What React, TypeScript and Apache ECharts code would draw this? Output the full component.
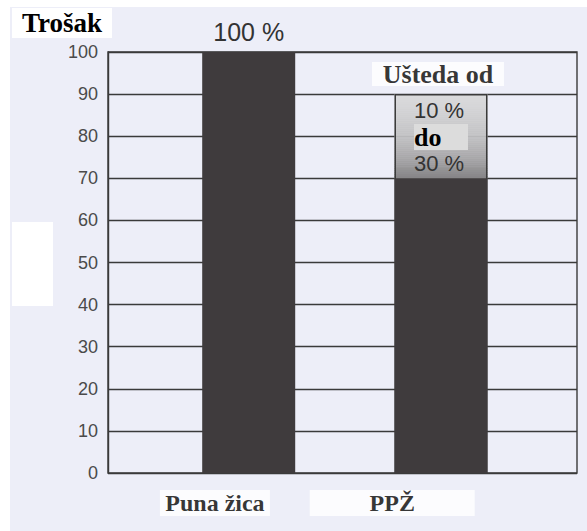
import React, { useEffect, useRef } from "react";
import * as echarts from "echarts";

// ---- data ----
const categories: string[] = ["Puna žica", "PPŽ"];
const costValues: number[] = [100, 70];
const ppzUpper: number = 90;
const savingFrom: number = 10;
const savingTo: number = 30;
const yTicks: number[] = [0, 10, 20, 30, 40, 50, 60, 70, 80, 90, 100];
const yAxisTitle = "Trošak";
const savingTitle = "Ušteda od";

// layout (positions on the hidden 0..100 horizontal value axis)
const BAR_X = [30, 71];
const CAT_LABEL_X = [22.8, 60.6];
const BAR_WIDTH = 93;

const SANS = "'Liberation Sans', Arial, sans-serif";
const SERIF = "'Liberation Serif', 'Times New Roman', serif";

export default function App() {
  const ref = useRef<HTMLDivElement>(null);
  useEffect(() => {
    if (!ref.current) return;
    const chart = echarts.init(ref.current, undefined, { renderer: "svg" });
    const dark = "#3f3b3d";
    const shadeStops = ["#dcdcde", "#d0d0d2", "#c2c2c4", "#a9a8aa", "#858486"];
    const option: any = {
      animation: false,
      backgroundColor: "#ffffff",
      title: {
        text: yAxisTitle,
        left: 12,
        top: 8,
        padding: [1, 10, 1, 10],
        backgroundColor: "#ffffff",
        textStyle: { fontFamily: SERIF, fontWeight: "bold", fontSize: 27, lineHeight: 28, color: "#000" },
      },
      graphic: [
        { type: "rect", z: -100, silent: true, shape: { x: 10, y: 7, width: 577, height: 524 }, style: { fill: "#edeef8" } },
        { type: "rect", z: -50, silent: true, shape: { x: 12, y: 222, width: 41, height: 84 }, style: { fill: "#ffffff" } },
      ],
      grid: {
        left: 108, right: 10, top: 52, bottom: 58,
        show: true, borderColor: "#3a3a3a", borderWidth: 1.4, backgroundColor: "transparent",
      },
      xAxis: {
        type: "value", min: 0, max: 100, show: true,
        axisLine: { show: false }, axisTick: { show: false }, axisLabel: { show: false }, splitLine: { show: false },
      },
      yAxis: {
        type: "value", min: yTicks[0], max: yTicks[yTicks.length - 1], interval: 10,
        axisLine: { show: true, lineStyle: { color: "#3a3a3a", width: 1.4 } },
        axisTick: { show: false },
        axisLabel: { fontFamily: SANS, fontSize: 18, color: "#4a4a4a", margin: 10, padding: [4, 0, 0, 0] },
        splitLine: { show: true, lineStyle: { color: "#3a3a3a", width: 1.4 } },
      },
      series: [
        {
          // shaded "saving" segment (vertical shading drawn as thin bands)
          type: "custom",
          name: "savingShade",
          z: 1,
          silent: true,
          encode: { x: 0, y: [1, 2] },
          data: [[BAR_X[1], costValues[1], ppzUpper]],
          renderItem: (params: any, api: any) => {
            const x = api.value(0);
            const top = api.coord([x, api.value(2)]);
            const bot = api.coord([x, api.value(1)]);
            const h = bot[1] - top[1];
            const n = 42;
            const children: any[] = [];
            for (let i = 0; i < n; i++) {
              const t = (i + 0.5) / n;
              children.push({
                type: "rect",
                shape: { x: top[0] - BAR_WIDTH / 2, y: top[1] + (i * h) / n, width: BAR_WIDTH, height: h / n + 0.6 },
                style: { fill: echarts.color.lerp(t, shadeStops), stroke: null },
              });
            }
            return { type: "group", children };
          },
        },
        {
          type: "bar",
          name: "saving",
          barWidth: BAR_WIDTH,
          barGap: "-100%",
          z: 2,
          itemStyle: {
            color: "rgba(0,0,0,0)",
            borderColor: "#3a3a3a",
            borderWidth: 1.5,
          },
          label: {
            show: true,
            position: "insideTop",
            distance: 0,
            offset: [0, 3],
            formatter: () => `{a|${savingFrom} %}\n{b|do}\n{a|${savingTo} %}`,
            rich: {
              a: { fontFamily: SANS, fontSize: 22, color: "#333", lineHeight: 27, width: 54, align: "left" },
              b: {
                fontFamily: SERIF, fontWeight: "bold", fontSize: 26, color: "#000",
                lineHeight: 26, height: 26, width: 54, align: "left",
                backgroundColor: "#dcdcdc",
              },
            },
          },
          data: [[BAR_X[1], ppzUpper]],
        },
        {
          type: "bar",
          name: "cost",
          barWidth: BAR_WIDTH,
          barGap: "-100%",
          z: 4,
          itemStyle: { color: dark },
          data: costValues.map((v, i) =>
            i === 0
              ? {
                  value: [BAR_X[i], v],
                  label: {
                    show: true, position: "top", distance: 8, formatter: `${v} %`,
                    fontFamily: SANS, fontSize: 25, color: "#333",
                  },
                }
              : { value: [BAR_X[i], v] }
          ),
        },
        {
          type: "scatter",
          name: "annotation",
          symbolSize: 0,
          silent: true,
          z: 5,
          data: [
            {
              value: [BAR_X[1], ppzUpper],
              label: {
                show: true,
                position: "top",
                distance: 8,
                offset: [-3, 0],
                formatter: savingTitle,
                backgroundColor: "#ffffff",
                width: 132,
                height: 24,
                lineHeight: 24,
                align: "center",
                fontFamily: SERIF,
                fontWeight: "bold",
                fontSize: 26,
                color: "#000",
              },
            },
          ],
        },
        {
          type: "scatter",
          name: "categories",
          symbolSize: 0,
          silent: true,
          data: categories.map((c, i) => ({
            value: [CAT_LABEL_X[i], 0],
            label: {
              show: true,
              position: "bottom",
              distance: 17,
              formatter: c,
              backgroundColor: "#ffffff",
              width: i === 0 ? 110 : 165,
              height: 26,
              lineHeight: 26,
              align: "center",
              fontFamily: SERIF,
              fontWeight: "bold",
              fontSize: 24,
              color: "#000",
            },
          })),
        },
      ],
    };
    chart.setOption(option);
    return () => chart.dispose();
  }, []);
  return (
    <div
      ref={ref}
      style={{ position: "fixed", left: 0, top: 0, width: 587, height: 531 }}
    />
  );
}
